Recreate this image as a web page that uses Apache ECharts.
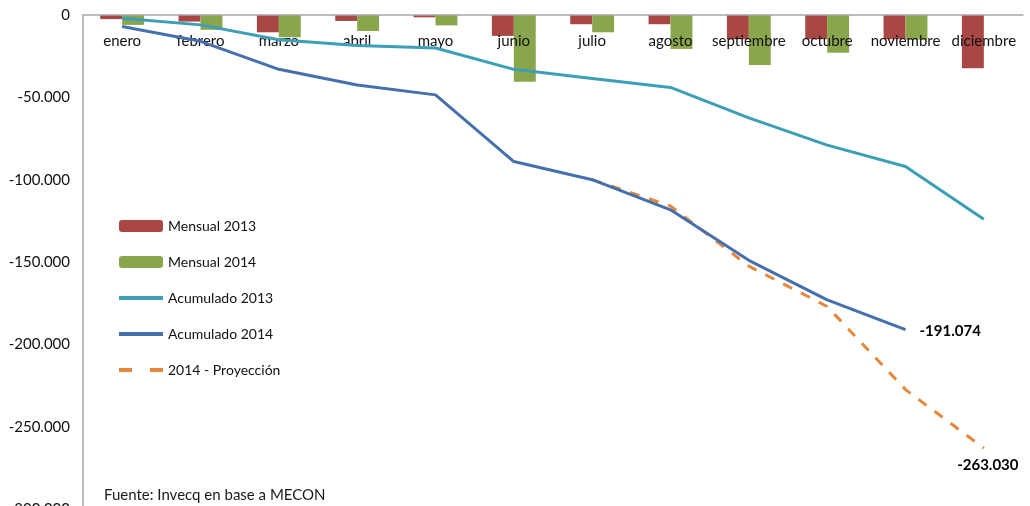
<!DOCTYPE html>
<html>
<head>
<meta charset="utf-8">
<script src="https://cdn.jsdelivr.net/npm/echarts@6/dist/echarts.min.js"></script>
<style>
  html, body { margin: 0; padding: 0; background: #fff; }
  #chart { width: 1030px; height: 506px; }
</style>
</head>
<body>
<div id="chart"></div>
<script>
const meses = ['enero', 'febrero', 'marzo', 'abril', 'mayo', 'junio', 'julio', 'agosto', 'septiembre', 'octubre', 'noviembre', 'diciembre']
const mensual2013 = [-2500, -4000, -10500, -3600, -1400, -12700, -5600, -5600, -14700, -14700, -14700, -32300]
const mensual2014 = [-6000, -9000, -13500, -9700, -6300, -40500, -10500, -20600, -30300, -22900, -15000, null]
const acumulado2013 = [-2000, -6000, -15000, -18500, -20000, -33000, -38500, -44000, -62500, -79000, -92000, -124000]
const acumulado2014 = [-7000, -16000, -33000, -42500, -48500, -89000, -100000, -118300, -149000, -173000, -191074, null]
const proyeccion2014 = [null, null, null, null, null, null, -100000, -116000, -152500, -177000, -227500, -263030]
const yTicks = { min: -300000, max: 0, interval: 50000 }

const font = 'Lato'

function fmt(v) {
  if (v === 0) return '0'
  const s = Math.abs(v).toString().replace(/\B(?=(\d{3})+(?!\d))/g, '.')
  return (v < 0 ? '-' : '') + s
}

const chart = echarts.init(document.getElementById('chart'))

// etiqueta del ultimo valor (minimo de la serie)
function ultimoValor(position, distance, offset) {
  return {
    symbol: 'circle',
    symbolSize: 0,
    data: [{ type: 'min' }],
    label: {
      show: true,
      position: position,
      distance: distance,
      offset: offset,
      formatter: p => fmt(p.value),
      fontWeight: 'bold',
      fontSize: 15,
      color: '#000',
      fontFamily: font
    }
  }
}

// en la leyenda las lineas van sin simbolo
const sinSimbolo = { opacity: 0 }

const option = {
  animation: false,
  title: {
    text: 'Fuente: Invecq en base a MECON',
    left: 99,
    top: 483,
    textStyle: { fontSize: 15, fontWeight: 'normal', color: '#1a1a1a', fontFamily: font }
  },
  legend: {
    orient: 'vertical',
    left: 112,
    top: 214,
    itemWidth: 44,
    itemHeight: 12,
    itemGap: 22,
    textStyle: { fontSize: 14, color: '#111', fontFamily: font },
    data: [
      { name: 'Mensual 2013' },
      { name: 'Mensual 2014' },
      { name: 'Acumulado 2013', itemStyle: sinSimbolo, lineStyle: { width: 4 } },
      { name: 'Acumulado 2014', itemStyle: sinSimbolo, lineStyle: { width: 4 } },
      { name: '2014 - Proyección', itemStyle: sinSimbolo, lineStyle: { width: 4, type: [13, 18] } }
    ]
  },
  grid: { left: 83, right: 7, top: 15, bottom: -3, outerBoundsMode: 'none' },
  xAxis: {
    type: 'category',
    position: 'top',
    data: meses,
    axisLine: { lineStyle: { color: '#a6a6a6', width: 1.5 } },
    axisTick: { show: false },
    axisLabel: { inside: true, margin: 19, fontSize: 15, color: '#111', fontFamily: font, interval: 0 },
    z: 5
  },
  yAxis: {
    type: 'value',
    min: yTicks.min,
    max: yTicks.max,
    interval: yTicks.interval,
    axisLine: { show: true, lineStyle: { color: '#a6a6a6', width: 1.5 } },
    axisTick: { show: false },
    splitLine: { show: false },
    axisLabel: { margin: 13, fontSize: 15, color: '#111', fontFamily: font, formatter: v => fmt(v) }
  },
  series: [
    {
      name: 'Mensual 2013',
      type: 'bar',
      data: mensual2013,
      barGap: '0%',
      barCategoryGap: '44%',
      itemStyle: { color: '#a94745' },
      z: 1
    },
    {
      name: 'Mensual 2014',
      type: 'bar',
      data: mensual2014,
      itemStyle: { color: '#8aa64c' },
      z: 1
    },
    {
      name: 'Acumulado 2013',
      type: 'line',
      data: acumulado2013,
      showSymbol: false,
      symbol: 'none',
      lineStyle: { color: '#3c9fb6', width: 3 },
      itemStyle: { color: '#3c9fb6' },
      z: 6
    },
    {
      name: 'Acumulado 2014',
      type: 'line',
      data: acumulado2014,
      showSymbol: false,
      symbol: 'none',
      lineStyle: { color: '#4670ad', width: 3 },
      itemStyle: { color: '#4670ad' },
      markPoint: ultimoValor('right', 14, [0, 2]),
      z: 7
    },
    {
      name: '2014 - Proyección',
      type: 'line',
      data: proyeccion2014,
      showSymbol: false,
      symbol: 'none',
      lineStyle: { color: '#e5883a', width: 3, type: [10, 10] },
      itemStyle: { color: '#e5883a' },
      markPoint: ultimoValor('bottom', 10, [4, 0]),
      z: 6
    }
  ]
}

chart.setOption(option)
</script>
</body>
</html>
